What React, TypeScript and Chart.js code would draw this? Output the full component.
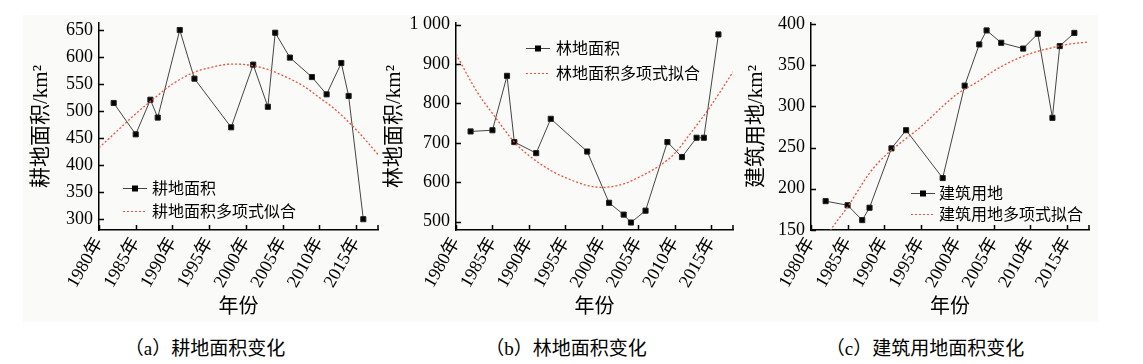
import React, { useEffect, useRef } from 'react';
import { Chart, registerables } from 'chart.js';

Chart.register(...registerables);
Chart.defaults.color = '#000';

// ---------- data ----------
const years = [1982, 1985, 1987, 1988, 1991, 1993, 1998, 2001, 2003, 2004, 2006, 2009, 2011, 2013, 2014, 2016];
const cultivated = [515, 457, 521, 488, 650, 560, 470, 586, 508, 645, 599, 563, 531, 589, 528, 300];
const forest = [729, 732, 870, 702, 674, 761, 678, 548, 518, 498, 528, 702, 664, 713, 713, 975];
const construction = [185, 180, 162, 177, 249, 271, 213, 325, 375, 392, 377, 370, 388, 286, 373, 389];

const fitYears = [1980, 1983, 1985, 1988, 1990, 1993, 1995, 1998, 2000, 2003, 2005, 2008, 2010, 2012, 2015, 2018];
const fitCultivated = [432, 470, 495, 529, 550, 572, 580, 587, 586, 577, 566, 545, 525, 505, 466, 420];
const fitForest = [925, 826, 775, 702, 668, 630, 612, 592, 587, 596, 612, 643, 673, 720, 795, 880];
const fitConstruction = [112, 154, 178, 219, 239, 261, 275, 300, 315, 331, 343, 357, 364, 369, 375, 378];

const xTickYears = [1980, 1985, 1990, 1995, 2000, 2005, 2010, 2015];
const yTicksA = [300, 350, 400, 450, 500, 550, 600, 650];
const yTicksB = [500, 600, 700, 800, 900, 1000];
const yTicksC = [150, 200, 250, 300, 350, 400];

const labelsA = ['耕地面积', '耕地面积多项式似合'];
const labelsB = ['林地面积', '林地面积多项式拟合'];
const labelsC = ['建筑用地', '建筑用地多项式拟合'];

const yTitleA = '耕地面积/km²';
const yTitleB = '林地面积/km²';
const yTitleC = '建筑用地/km²';
const xTitle = '年份';
const captions = ['（a）耕地面积变化', '（b）林地面积变化', '（c）建筑用地面积变化'];

// ---------- styling ----------
const FONT = "'Liberation Serif', 'Noto Sans CJK SC', serif";
const CJK = "'Noto Sans CJK SC', 'Liberation Serif', serif";
const FIT_COLOR = 'rgb(242, 82, 58)';
const DATA_LINE = '#444';
const CANVAS_H = 330;

const inwardTicks = {
  id: 'inwardTicks',
  afterDraw(chart: any) {
    const { ctx, chartArea, scales } = chart;
    const xs = scales.x;
    const ys = scales.y;
    ctx.save();
    ctx.strokeStyle = '#000';
    ctx.lineWidth = 1.5;
    ctx.beginPath();
    xs.ticks.forEach((t: any) => {
      const px = Math.round(xs.getPixelForValue(t.value)) + 0.5;
      ctx.moveTo(px, chartArea.bottom);
      ctx.lineTo(px, chartArea.bottom - 5);
    });
    ctx.moveTo(chartArea.right, chartArea.bottom);
    ctx.lineTo(chartArea.right, chartArea.bottom - 5);
    ys.ticks.forEach((t: any) => {
      const py = Math.round(ys.getPixelForValue(t.value)) + 0.5;
      ctx.moveTo(chartArea.left, py);
      ctx.lineTo(chartArea.left + 5, py);
    });
    ctx.stroke();
    ctx.restore();
  },
};

const insideLegend = {
  id: 'insideLegend',
  afterDraw(chart: any, _args: any, opts: any) {
    if (!opts || opts.x === undefined) return;
    const { ctx } = chart;
    const ds = chart.data.datasets;
    const dataDs = ds[1];
    const fitDs = ds[0];
    const x0 = opts.x;
    const w = 24;
    ctx.save();
    ctx.strokeStyle = DATA_LINE;
    ctx.lineWidth = 1;
    ctx.beginPath();
    ctx.moveTo(x0, opts.y1 + 0.5);
    ctx.lineTo(x0 + w, opts.y1 + 0.5);
    ctx.stroke();
    ctx.fillStyle = '#000';
    ctx.fillRect(x0 + w / 2 - 3, opts.y1 - 2.5, 6, 6);
    ctx.strokeStyle = FIT_COLOR;
    ctx.lineWidth = 1.2;
    ctx.setLineDash([2, 2]);
    ctx.beginPath();
    ctx.moveTo(x0, opts.y2 + 0.5);
    ctx.lineTo(x0 + w, opts.y2 + 0.5);
    ctx.stroke();
    ctx.setLineDash([]);
    ctx.fillStyle = '#000';
    ctx.font = `16px ${CJK}`;
    ctx.textBaseline = 'middle';
    ctx.textAlign = 'left';
    ctx.fillText(dataDs.label, opts.textX, opts.y1);
    ctx.fillText(fitDs.label, opts.textX, opts.y2);
    ctx.restore();
  },
};

function makeConfig(p: any) {
  return {
    type: 'line',
    data: {
      datasets: [
        {
          label: p.labels[1],
          data: fitYears.map((x, i) => ({ x, y: p.fit[i] })),
          borderColor: FIT_COLOR,
          borderWidth: 1.3,
          borderDash: [2, 2],
          pointRadius: 0,
          cubicInterpolationMode: 'monotone',
          fill: false,
          order: 0,
        },
        {
          label: p.labels[0],
          data: years.map((x, i) => ({ x, y: p.values[i] })),
          borderColor: DATA_LINE,
          borderWidth: 1,
          pointStyle: 'rect',
          pointRadius: 3.6,
          pointBackgroundColor: '#000',
          pointBorderColor: '#222',
          pointBorderWidth: 1,
          tension: 0,
          fill: false,
          order: 1,
        },
      ],
    },
    options: {
      responsive: false,
      animation: false,
      events: [],
      layout: { padding: { left: 0, right: p.padRight, top: 23, bottom: 0 } },
      plugins: {
        legend: { display: false },
        tooltip: { enabled: false },
        insideLegend: p.legend,
      },
      scales: {
        x: {
          type: 'linear',
          min: 1980,
          max: 2018,
          afterBuildTicks: (s: any) => {
            s.ticks = xTickYears.map((v) => ({ value: v }));
          },
          afterFit: (s: any) => {
            s.height = CANVAS_H - 230;
          },
          grid: { display: false, drawTicks: false },
          border: { display: true, color: '#000', width: 1.5 },
          ticks: {
            autoSkip: false,
            minRotation: 60,
            maxRotation: 60,
            padding: 4,
            font: { family: FONT, size: 18 },
            color: '#000',
            callback: (v: any) => `${v}年`,
          },
          title: {
            display: true,
            text: xTitle,
            font: { family: CJK, size: 20 },
            color: '#000',
            padding: { top: 0, bottom: 13 },
          },
        },
        y: {
          type: 'linear',
          min: p.yMin,
          max: p.yMax,
          afterBuildTicks: (s: any) => {
            s.ticks = p.yTicks.map((v: number) => ({ value: v }));
          },
          afterFit: (s: any) => {
            s.width = p.yWidth;
          },
          grid: { display: false, drawTicks: false },
          border: { display: true, color: '#000', width: 1.5 },
          ticks: {
            padding: 6,
            font: { family: FONT, size: 18 },
            color: '#000',
            callback: (v: any) => (v === 1000 ? '1 000' : `${v}`),
          },
          title: {
            display: true,
            text: p.yTitle,
            font: { family: FONT, size: 21 },
            color: '#000',
            padding: { top: p.titlePad, bottom: 0 },
          },
        },
      },
    },
    plugins: [inwardTicks, insideLegend],
  };
}

function Panel(props: { left: number; width: number; params: any }) {
  const ref = useRef<HTMLCanvasElement | null>(null);
  useEffect(() => {
    if (!ref.current) return;
    const chart = new Chart(ref.current, makeConfig(props.params) as any);
    return () => chart.destroy();
  }, []);
  return (
    <canvas
      ref={ref}
      width={props.width}
      height={CANVAS_H}
      style={{ position: 'absolute', left: props.left, top: 0, width: props.width, height: CANVAS_H }}
    />
  );
}

const panelA = {
  values: cultivated, fit: fitCultivated, labels: labelsA, yTitle: yTitleA,
  yMin: 280, yMax: 663, yTicks: yTicksA, yWidth: 99, titlePad: 29, padRight: 12,
  legend: { x: 123, y1: 188, y2: 211, textX: 152 },
};
const panelB = {
  values: forest, fit: fitForest, labels: labelsB, yTitle: yTitleB,
  yMin: 479, yMax: 1004, yTicks: yTicksB, yWidth: 84, titlePad: 10, padRight: 12,
  legend: { x: 154, y1: 48, y2: 73, textX: 184 },
};
const panelC = {
  values: construction, fit: fitConstruction, labels: labelsC, yTitle: yTitleC,
  yMin: 150, yMax: 401, yTicks: yTicksC, yWidth: 76, titlePad: 9, padRight: 11,
  legend: { x: 176, y1: 193, y2: 214, textX: 204 },
};

export default function App() {
  const capCenters = [205, 566, 925];
  return (
    <div style={{ position: 'absolute', left: 0, top: 0, width: 1143, height: 364, background: '#fff', overflow: 'hidden' }}>
      <div style={{ position: 'absolute', left: 23, top: 15, width: 1075, height: 307, background: '#fafaf8' }} />
      <Panel left={0} width={390} params={panelA} />
      <Panel left={372} width={373} params={panelB} />
      <Panel left={735} width={365} params={panelC} />
      {captions.map((c, i) => (
        <div
          key={i}
          style={{
            position: 'absolute',
            left: capCenters[i] - 150,
            width: 300,
            top: 337,
            textAlign: 'center',
            fontFamily: FONT,
            fontSize: 19,
            lineHeight: '24px',
            color: '#000',
          }}
        >
          {c}
        </div>
      ))}
    </div>
  );
}
